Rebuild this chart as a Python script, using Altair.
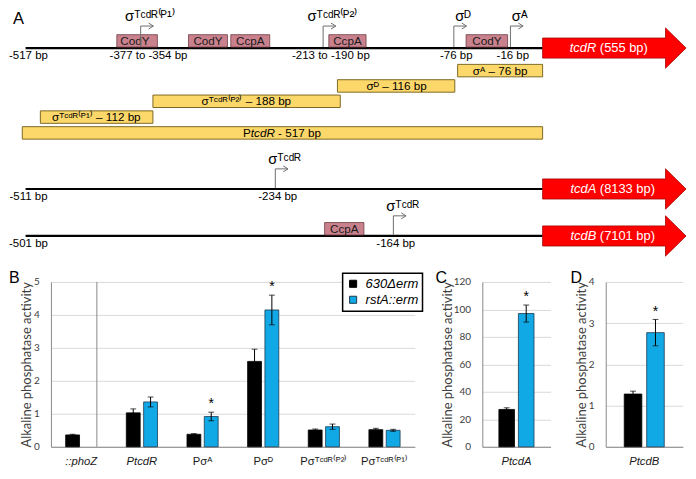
import altair as alt
import pandas as pd

# ============================ data ============================
strains = ["630Δerm", "rstA::erm"]

# Panel B
b_categories = ["::phoZ", "PtcdR", "Pσᴬ", "Pσᴰ", "Pσᵀᶜᵈᴿ⁽ᴾ²⁾", "Pσᵀᶜᵈᴿ⁽ᴾ¹⁾"]
b_wt = [0.36, 1.03, 0.38, 2.59, 0.51, 0.52]
b_wt_err = [0.02, 0.12, 0.02, 0.37, 0.03, 0.04]
b_rst = [None, 1.36, 0.92, 4.15, 0.61, 0.50]
b_rst_err = [None, 0.15, 0.13, 0.45, 0.08, 0.03]
b_rst_sig = [False, False, True, True, False, False]

# Panel C
c_categories = ["PtcdA"]
c_wt, c_wt_err = [27.2], [1.2]
c_rst, c_rst_err, c_rst_sig = [97.0], [6.2], [True]

# Panel D
d_categories = ["PtcdB"]
d_wt, d_wt_err = [1.28], [0.07]
d_rst, d_rst_err, d_rst_sig = [2.77], [0.32], [True]

# Panel A (positions in bp relative to the start codon)
genes = ["tcdR", "tcdA", "tcdB"]
gene_sizes = ["(555 bp)", "(8133 bp)", "(7101 bp)"]
region_start_bp = [-517, -511, -501]

tss_gene = ["tcdR", "tcdR", "tcdR", "tcdR", "tcdA", "tcdB"]
tss_bp = [-377, -213, -76, -16, -234, -164]
tss_sigma = ["σᵀᶜᵈᴿ⁽ᴾ¹⁾", "σᵀᶜᵈᴿ⁽ᴾ²⁾", "σᴰ", "σᴬ", "σᵀᶜᵈᴿ", "σᵀᶜᵈᴿ"]
tss_label = ["-377 to -354 bp", "-213 to -190 bp", "-76 bp", "-16 bp", "-234 bp", "-164 bp"]

site_gene = ["tcdR", "tcdR", "tcdR", "tcdR", "tcdR", "tcdB"]
site_name = ["CodY", "CodY", "CcpA", "CcpA", "CodY", "CcpA"]
site_start_bp = [-406, -334, -296, -207, -63, -227]
site_end_bp = [-362, -299, -261, -168, -19, -191]

fragment_name = ["σᴬ – 76 bp", "σᴰ – 116 bp", "σᵀᶜᵈᴿ⁽ᴾ²⁾ – 188 bp", "σᵀᶜᵈᴿ⁽ᴾ¹⁾ – 112 bp", "PtcdR - 517 bp"]
fragment_start_bp = [-72, -198, -366, -499, -521]
fragment_end_bp = [0, -75, -195, -366, 0]
fragment_label_bp = [-27, -136, -282, -431, -250]

panel_letters = ["A", "B", "C", "D"]
y_title = "Alkaline phosphatase activity"

# ============================ layout / style ============================
SX, SY = 0.977, 0.96
def ux(p): return round(p * SX, 2)
def vy(p): return round(p * SY, 2)

FONT = "Liberation Sans"
NUMFONT = "Lato"
PINK, PINK_EDGE = "#c9828d", "#6e3b42"
YELLOW, YELLOW_EDGE = "#fcd76a", "#7d6a26"
RED, RED_EDGE = "#ff0000", "#a30000"
ARROW_GRAY = "#6e6e6e"
BLUE, BLUE_EDGE = "#10a9e6", "#1d3a52"
AXIS_GRAY = "#8a8a8a"

# panel A view: origin at reference pixel (43, 12)
A_X0, A_Y0, A_Y1 = 43, 12, 273
A_W, A_H = ux(696 - A_X0), vy(A_Y1 - A_Y0)

TRACK = {
    "tcdR": {"knots_bp": [-517, -377, -213, -76, -16, 0], "knots_px": [17, 135, 322, 456, 514, 547], "row": 42, "tss_h": 23},
    "tcdA": {"knots_bp": [-511, -234, 0], "knots_px": [17, 273, 547], "row": 189, "tss_h": 21},
    "tcdB": {"knots_bp": [-501, -164, 0], "knots_px": [17, 394, 547], "row": 238, "tss_h": 21},
}
FRAG_ROWS = [65.5, 81.5, 97.5, 114, 130.5]

# gene arrow as a custom symbol anchored at the start codon
_s = ux(147) / 2
_h, _H, _b = vy(10.5) / _s, vy(21) / _s, 2 * 126 / 147
ARROW_PATH = (f"M 0 {-_h:.3f} L {_b:.3f} {-_h:.3f} L {_b:.3f} {-_H:.3f} L 2 0 "
              f"L {_b:.3f} {_H:.3f} L {_b:.3f} {_h:.3f} L 0 {_h:.3f} Z")
ARROW_SIZE = round(ux(147) ** 2, 1)
CHEVRON = "M -1.6 -1 L 0 0 L -1.6 1"


def track_chart(g):
    lay = TRACK[g]
    gi = genes.index(g)
    row = lay["row"]
    xs = alt.Scale(domain=lay["knots_bp"], range=[ux(p - A_X0) for p in lay["knots_px"]], zero=False, nice=False)
    ys = alt.Scale(domain=[A_Y0, A_Y1], range=[0, A_H], zero=False, nice=False)

    def X(f):
        return alt.X(f"{f}:Q", scale=xs, axis=None)

    def Y(f):
        return alt.Y(f"{f}:Q", scale=ys, axis=None)

    L = []
    bb = pd.DataFrame({"s": [region_start_bp[gi]], "e": [0], "y": [row],
                       "lab": [f"{region_start_bp[gi]} bp"], "ly": [row + 8.5]})
    L.append(alt.Chart(bb).mark_rule(color="black", strokeWidth=2.2)
             .encode(x=X("s"), x2=alt.X2("e"), y=Y("y")))
    L.append(alt.Chart(bb).mark_text(font=FONT, fontSize=11.5, baseline="middle", dx=ux(3))
             .encode(x=X("s"), y=Y("ly"), text="lab:N"))

    # binding sites
    sites = pd.DataFrame({"gene": site_gene, "name": site_name, "s": site_start_bp, "e": site_end_bp})
    sites = sites[sites.gene == g].copy()
    if len(sites):
        sites["y1"] = row - 14
        sites["y2"] = row - 1
        sites["ty"] = row - 7.5
        sites["mid"] = (sites.s + sites.e) / 2
        L.append(alt.Chart(sites).mark_rect(fill=PINK, stroke=PINK_EDGE, strokeWidth=0.8)
                 .encode(x=X("s"), x2=alt.X2("e"), y=Y("y1"), y2=alt.Y2("y2")))
        L.append(alt.Chart(sites).mark_text(font=FONT, fontSize=11.7, baseline="middle", color="#1a1a1a")
                 .encode(x=X("mid"), y=Y("ty"), text="name:N"))

    # transcription start sites
    t = pd.DataFrame({"gene": tss_gene, "bp": tss_bp, "sigma": tss_sigma, "label": tss_label})
    t = t[t.gene == g].copy()
    t["base"] = row - 1.1
    t["top"] = row - lay["tss_h"]
    t["sy"] = t["top"] - 5
    t["ly"] = row + 8.5
    L.append(alt.Chart(t).mark_rule(color=ARROW_GRAY, strokeWidth=1)
             .encode(x=X("bp"), y=Y("base"), y2=alt.Y2("top")))
    L.append(alt.Chart(t).mark_rule(color=ARROW_GRAY, strokeWidth=1, x2Offset=ux(13))
             .encode(x=X("bp"), x2=alt.X2("bp"), y=Y("top")))
    L.append(alt.Chart(t).mark_point(shape=CHEVRON, filled=False, size=36, color=ARROW_GRAY,
                                     strokeWidth=1, opacity=1, xOffset=ux(13))
             .encode(x=X("bp"), y=Y("top")))
    L.append(alt.Chart(t).mark_text(font=FONT, fontSize=14.7, baseline="alphabetic", dx=ux(9.5))
             .encode(x=X("bp"), y=Y("sy"), text="sigma:N"))
    rng = t[t.label.str.contains(" to ")]
    single = t[~t.label.str.contains(" to ")]
    if len(rng):
        L.append(alt.Chart(rng).mark_text(font=FONT, fontSize=11.5, baseline="middle", dx=ux(8))
                 .encode(x=X("bp"), y=Y("ly"), text="label:N"))
    if len(single):
        L.append(alt.Chart(single).mark_text(font=FONT, fontSize=11.5, baseline="middle", dx=ux(2.5))
                 .encode(x=X("bp"), y=Y("ly"), text="label:N"))

    # promoter fragments (tcdR only)
    if g == "tcdR":
        fr = pd.DataFrame({"name": fragment_name, "s": fragment_start_bp, "e": fragment_end_bp,
                           "lbp": fragment_label_bp, "c": FRAG_ROWS})
        fr["y1"] = fr.c - 6.5
        fr["y2"] = fr.c + 6.5
        L.append(alt.Chart(fr).mark_rect(fill=YELLOW, stroke=YELLOW_EDGE, strokeWidth=1)
                 .encode(x=X("s"), x2=alt.X2("e"), y=Y("y1"), y2=alt.Y2("y2")))
        sig = fr[fr.name.str.startswith("σ")]
        L.append(alt.Chart(sig).mark_text(font=FONT, fontSize=11.7, baseline="middle")
                 .encode(x=X("lbp"), y=Y("c"), text="name:N"))
        full = fr[~fr.name.str.startswith("σ")].copy()
        promoter, length = full.name.iloc[0].split(" - ")
        full["p0"] = promoter[0]
        full["p1"] = promoter[1:]
        full["p2"] = "- " + length
        F = 11.7
        j1 = -39.0 + 0.667 * F
        j2 = j1 + 2.056 * F + 0.278 * F
        L.append(alt.Chart(full).mark_text(font=FONT, fontSize=F, baseline="middle", align="right", dx=j1)
                 .encode(x=X("lbp"), y=Y("c"), text="p0:N"))
        L.append(alt.Chart(full).mark_text(font=FONT, fontSize=F, baseline="middle", align="left",
                                           fontStyle="italic", dx=j1)
                 .encode(x=X("lbp"), y=Y("c"), text="p1:N"))
        L.append(alt.Chart(full).mark_text(font=FONT, fontSize=F, baseline="middle", align="left", dx=j2)
                 .encode(x=X("lbp"), y=Y("c"), text="p2:N"))
        L.append(alt.Chart(pd.DataFrame({"t": [panel_letters[0]]}))
                 .mark_text(font=FONT, fontSize=16.5, align="left", baseline="top")
                 .encode(x=alt.value(ux(4 - A_X0)), y=alt.value(vy(3 - A_Y0)), text="t:N"))

    # gene arrow
    gdf = pd.DataFrame({"bp": [0], "y": [row], "name": [g], "size": [gene_sizes[gi]]})
    L.append(alt.Chart(gdf).mark_point(shape=ARROW_PATH, size=ARROW_SIZE, filled=True, fill=RED,
                                       stroke=RED_EDGE, strokeWidth=0.8, opacity=1)
             .encode(x=X("bp"), y=Y("y")))
    L.append(alt.Chart(gdf).mark_text(font=FONT, fontSize=12.9, fontStyle="italic", color="white",
                                      align="right", baseline="middle", dx=ux(55))
             .encode(x=X("bp"), y=Y("y"), text="name:N"))
    L.append(alt.Chart(gdf).mark_text(font=FONT, fontSize=12.9, color="white",
                                      align="left", baseline="middle", dx=ux(55) + 0.278 * 12.9)
             .encode(x=X("bp"), y=Y("y"), text="size:N"))
    return alt.layer(*L)


A = (alt.layer(*[track_chart(g) for g in genes])
     .resolve_scale(x="independent")
     .properties(width=A_W, height=A_H))

ITALIC_TEST = "indexof(['::phoZ','PtcdR','PtcdA','PtcdB'], datum.value) >= 0"


def bar_panel(letter, cats, wt, wt_err, rst, rst_err, rst_sig, ymax, ystep, width_ref,
              p_in, p_out, off_in, letter_dx_ref, title_x_ref, legend=None, separator=False):
    rows = []
    for i, c in enumerate(cats):
        rows.append(dict(category=c, strain=strains[0], value=wt[i],
                         lo=wt[i] - wt_err[i], hi=wt[i] + wt_err[i], sig=False))
        if rst[i] is not None:
            rows.append(dict(category=c, strain=strains[1], value=rst[i],
                             lo=rst[i] - rst_err[i], hi=rst[i] + rst_err[i], sig=bool(rst_sig[i])))
    df = pd.DataFrame(rows)
    W, H = ux(width_ref), vy(172)

    xscale = alt.Scale(domain=cats, paddingInner=p_in, paddingOuter=p_out)
    xaxis = alt.Axis(title=None, labelAngle=0, ticks=False, grid=False, domainColor=AXIS_GRAY,
                     domainWidth=1, labelFont=FONT, labelFontSize=11.3, labelColor="#1a1a1a",
                     labelPadding=vy(9), labelOverlap=False,
                     labelFontStyle={"condition": {"test": ITALIC_TEST, "value": "italic"}, "value": "normal"})
    X = alt.X("category:N", sort=cats, scale=xscale, axis=xaxis)
    XO = alt.XOffset("strain:N", sort=strains,
                     scale=alt.Scale(domain=strains, paddingInner=off_in, paddingOuter=0))
    yscale = alt.Scale(domain=[0, ymax], nice=False, zero=True)
    nt = int(round(ymax / ystep))
    yaxis = alt.Axis(values=[i * ystep for i in range(nt + 1)], format="d", title=y_title,
                     grid=True, gridColor="#d9d9d9", ticks=False, domain=True, domainColor=AXIS_GRAY,
                     labelFont=NUMFONT, labelFontSize=10, labelColor="#404040", labelPadding=ux(12),
                     labelOverlap=False,
                     titleFont=NUMFONT, titleFontSize=13, titleFontWeight="normal", titleColor="#404040",
                     titleX=title_x_ref * SX, titleAngle=270, titleBaseline="middle", titleAlign="center")

    def Y(f):
        return alt.Y(f"{f}:Q", scale=yscale, axis=yaxis)

    base = alt.Chart(df)
    color = alt.Color("strain:N", scale=alt.Scale(domain=strains, range=["#000000", BLUE]),
                      legend=legend)
    stroke = alt.Stroke("strain:N", scale=alt.Scale(domain=strains, range=["#000000", BLUE_EDGE]),
                        legend=None)
    layers = [
        base.mark_bar(strokeWidth=0.8).encode(x=X, xOffset=XO, y=Y("value"), color=color, stroke=stroke),
        base.mark_rule(color="black", strokeWidth=1).encode(x=X, xOffset=XO, y=Y("lo"), y2=alt.Y2("hi")),
        base.mark_tick(color="black", thickness=1, size=ux(6), orient="horizontal")
            .encode(x=X, xOffset=XO, y=Y("lo")),
        base.mark_tick(color="black", thickness=1, size=ux(6), orient="horizontal")
            .encode(x=X, xOffset=XO, y=Y("hi")),
        base.transform_filter("datum.sig").mark_text(text="*", font=FONT, fontSize=14,
                                                     baseline="alphabetic", dy=-vy(4))
            .encode(x=X, xOffset=XO, y=Y("hi")),
        alt.Chart(pd.DataFrame({"t": [letter]})).mark_text(font=FONT, fontSize=16, align="left",
                                                            baseline="top")
            .encode(x=alt.value(-ux(letter_dx_ref)), y=alt.value(-vy(12)), text="t:N"),
    ]
    if separator:
        sep = pd.DataFrame({"category": [cats[0]]})
        layers.append(alt.Chart(sep).mark_rule(color=AXIS_GRAY, strokeWidth=1)
                      .encode(x=alt.X("category:N", sort=cats, scale=xscale, axis=xaxis, bandPosition=1),
                              y=alt.YDatum(0, scale=yscale, axis=yaxis),
                              y2=alt.Y2Datum(ymax)))
    return alt.layer(*layers).properties(width=W, height=H)


LEGEND = alt.Legend(title=None, orient="none", legendX=ux(299), legendY=-vy(9), symbolType="square",
                    symbolSize=50, symbolStrokeColor=BLUE_EDGE, symbolStrokeWidth=1,
                    labelFont=FONT, labelFontSize=13, labelFontStyle="italic", labelColor="black",
                    labelOffset=6, padding=4, rowPadding=2, strokeColor="black", fillColor="white")

B = bar_panel(panel_letters[1], b_categories, b_wt, b_wt_err, b_rst, b_rst_err, b_rst_sig,
              5, 1, 373, 0.486, 0.243, 0.2, 43, -25.5, legend=LEGEND, separator=True)
C = bar_panel(panel_letters[2], c_categories, c_wt, c_wt_err, c_rst, c_rst_err, c_rst_sig,
              120, 20, 70, 0.0, 0.472, 0.2, 48, -36)
D = bar_panel(panel_letters[3], d_categories, d_wt, d_wt_err, d_rst, d_rst_err, d_rst_sig,
              4, 1, 79, 0.0, 0.463, 0.217, 36, -24.5)

RES = dict(color="independent", stroke="independent", xOffset="independent",
           x="independent", y="independent")

cd = alt.hconcat(C, D, spacing=18.6).resolve_scale(**RES)
row = alt.hconcat(B, cd, spacing=12).resolve_scale(**RES)

chart = (alt.vconcat(A, row, spacing=0)
         .resolve_scale(**RES)
         .properties(padding=0, background="white")
         .configure(font=FONT)
         .configure_view(stroke=None)
         .configure_legend(strokeWidth=1.5))

chart.save("out.html", embed_options={"renderer": "svg", "actions": False})
